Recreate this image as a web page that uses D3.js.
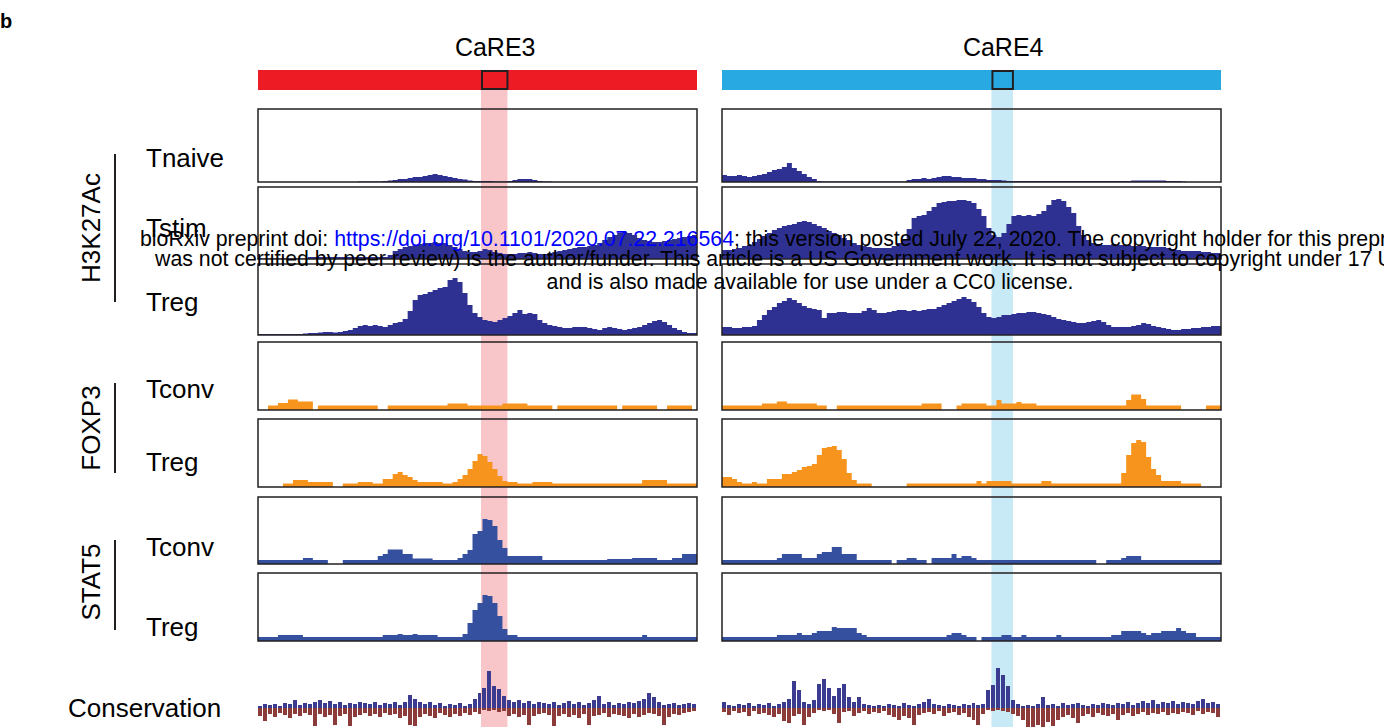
<!DOCTYPE html>
<html>
<head>
<meta charset="utf-8">
<script src="https://d3js.org/d3.v7.min.js"></script>
<style>
  body { margin: 0; background: #fff; }
  svg { display: block; font-family: "Liberation Sans", Arial, sans-serif; }
</style>
</head>
<body>
<svg id="chart" width="1384" height="727"></svg>
<script>
///////////
/// Data ///
///////////

// two enhancer windows, binned signal (one value per bin)
const regions     = ["CaRE3", "CaRE4"];
const binCounts   = [88, 100];
const careStart   = [44.7, 54];      // highlighted element, in bins
const careEnd     = [50, 58.3];

const marks       = ["H3K27Ac", "FOXP3", "STAT5"];
const trackNames  = ["Tnaive", "Tstim", "Treg", "Tconv", "Treg", "Tconv", "Treg"];
const trackMark   = [0, 0, 0, 1, 1, 2, 2];

const h3Tnaive3 = [0,0,0,0,0,0,0,0,0,0, 0,0,0,0,0,0,0,0,0,0,
  0.5,0.5,0.5,0.5,0.5,1,1.5,2,3,3, 4,5,5,6,7,8,7,6,5,4,
  3,2.5,1.5,1,1,1,1,0.5,0.5,0.5, 1,2,3,3,3,2,1,0.5,0.5,0,
  0,0,0,0,0,0,0,0,0,0, 0,0,0,0,0,0,0,0,0,0, 0,0,0,0,0,0,0,0];
const h3Tnaive4 = [7,6,6,7,6,5,6,7,8,10, 12,13,15,19,14,11,8,5,3,1,
  0.5,0.5,0.5,0.5,0.5,0.5,0.5,0.5,0.5,0.5, 0.5,0.5,0.5,0.5,0.5,0.5,0.5,2,3,3,
  4,3,4,5,6,6,5,5,4,4, 4,3,3,2,2,2,1.5,1,1,1,
  1,1,1,1,1,1,1,1,1,1, 1,1,1,1,1,1,1,1,1,1,
  1,1,1.5,1.5,1.5,1.5,1.5,1.5,1.5,1, 1,1,0.5,0,0,0,0,0,0,0];

const h3Tstim3 = [0.5,0.5,0.5,0.5,0.5,0.5,0.5,0.5,0.5,0.5, 2,2,2,2,2,2,2,2,2,2,
  2,2,2,2,2,2,4,8,10,12, 13,14,15,16,16,17,16,16,14,12,
  10,8,7,7,8,10,9,7,6,5, 5,5,6,6,7,6,5,5,6,7,
  8,9,10,11,12,12,13,14,16,19, 22,24,26,27,26,24,21,19,18,17,
  17,18,19,20,21,22,23,24];
const h3Tstim4 = [9,9,10,11,13,14,17,20,23,26, 29,31,33,34,35,37,38,37,35,33,
  31,28,26,24,21,19,16,14,13,12, 11,11,11,11,13,16,19,30,41,43,
  44,48,52,56,57,58,58,59,59,58, 56,50,43,31,24,22,26,35,43,44,
  43,44,43,45,48,54,59,60,58,52, 46,33,24,19,16,15,14,14,15,14,
  14,14,13,13,13,12,12,12,12,11, 10,9,8,8,8,8,7,7,6,6];

const h3Treg3 = [1,1,1,1,1,1,1,1,1,1.5, 2,2,2.5,3,3,2.5,3,4,5,7,
  9,10,9,10,9,8,10,12,13,16, 24,35,40,41,43,45,47,48,55,57,
  53,42,30,22,18,15,14,13,15,17, 19,22,25,21,22,21,15,12,10,9,
  8,7,7,8,8,8,7,6,5,7, 8,7,6,5,6,7,8,10,12,14,
  15,13,10,7,5,3,2,2];
const h3Treg4 = [8,8,7,7,8,8,9,15,20,25, 28,32,34,37,35,32,29,27,26,25,
  17,22,22,23,23,22,22,22,24,27, 25,22,22,23,24,25,25,24,25,24,
  25,26,26,28,30,32,34,36,38,36, 33,28,22,18,17,18,20,20,21,22,
  22,23,23,22,21,20,18,16,15,14, 13,12,12,13,14,15,13,10,8,8,
  8,8,9,10,12,11,9,8,7,6, 5,5,6,6,7,7,8,8,9,9];

const foxTconv3 = [0,0,4.5,4.5,7,7,10.5,10.5,8.5,8.5, 8.5,0,4.5,4.5,4.5,4.5,4.5,4.5,4.5,4.5,
  4.5,4.5,4.5,4.5,0,0,4.5,4.5,4.5,4.5, 4.5,4.5,4.5,4.5,4.5,4.5,4.5,4.5,6.5,6.5,
  6.5,6.5,4.5,4.5,4.5,4.5,4.5,4.5,4.5,6.5, 6.5,6.5,6.5,6.5,4.5,4.5,4.5,4.5,4.5,0,
  4.5,4.5,4.5,4.5,4.5,4.5,4.5,4.5,4.5,4.5, 4.5,4.5,0,4.5,4.5,4.5,4.5,4.5,4.5,4.5,
  0,0,4.5,4.5,4.5,4.5,4.5,0];
const foxTconv4 = [4.5,4.5,4.5,4.5,4.5,4.5,4.5,4.5,6.5,6.5, 6.5,8.5,8.5,6.5,6.5,6.5,6.5,6.5,6.5,4.5,
  4.5,0,0,4.5,4.5,4.5,4.5,4.5,4.5,4.5, 4.5,4.5,4.5,4.5,4.5,4.5,4.5,4.5,4.5,4.5,
  6.5,6.5,6.5,6.5,0,0,0,4.5,6.5,6.5, 6.5,6.5,6.5,4.5,4.5,10,6.5,6.5,6.5,8,
  6.5,6.5,6.5,4.5,4.5,4.5,4.5,4.5,4.5,4.5, 4.5,4.5,4.5,4.5,4.5,4.5,4.5,4.5,4.5,4.5,
  4.5,10,15.5,15.5,11,4.5,4.5,4.5,4.5,4.5, 4.5,4.5,0,0,0,0,0,4.5,4.5,4.5];

const foxTreg3 = [0,0,0,0,0,3.5,3.5,7,7,7, 5,5,5,5,5,0,0,3.5,3.5,3.5,
  5,5,5,3.5,3.5,8,8,13,15,12, 10,7,5,5,5,5,5,3.5,3.5,5,
  8,12,18,26,33,31,25,18,11,6, 5,5,3.5,3.5,3.5,5,5,5,5,3.5,
  3.5,3.5,3.5,3.5,3.5,3.5,3.5,3.5,3.5,3.5, 3.5,3.5,3.5,3.5,3.5,3.5,3.5,7,7,7,
  7,7,3.5,3.5,3.5,3.5,3.5,3.5];
const foxTreg4 = [10,10,8,5,3.5,3.5,5,3.5,3.5,8, 8,8,13,13,15,17,20,21,23,32,
  39,40,41,37,28,14,7,3.5,3.5,3.5, 0,0,0,0,0,0,0,3.5,3.5,3.5,
  3.5,3.5,3.5,3.5,3.5,3.5,3.5,3.5,3.5,3.5, 3.5,6,3.5,6,6,6,6,6,3.5,3.5,
  3.5,3.5,3.5,3.5,6,6,3.5,3.5,3.5,3.5, 3.5,3.5,3.5,3.5,3.5,3.5,3.5,3.5,3.5,3.5,
  14,32,44,47,45,30,18,12,6,6, 6,6,3.5,3.5,3.5,3.5,0,0,0,0];

const stTconv3 = [4,4,4,4,4,4,4,4,4,6, 6,4,4,4,0,0,0,4,4,4,
  4,4,4,4,8,10,14.5,14.5,14.5,10, 10,5.5,5.5,5.5,5.5,4,4,4,4,4,
  6,10,14,30,33,45,44,38,24,16, 8,8,8,8,8,8,8,4,4,4,
  4,4,4,4,4,4,4,4,4,4, 5,5,5,5,5,6,6,6,6,6,
  4,4,4,6,6,10,10,10];
const stTconv4 = [4,4,4,4,4,4,4,4,4,4, 4,6,10,10,10,10,6,6,6,10,
  12,12,17,17,10,10,10,4,4,4, 4,4,4,4,0,4,4,6,6,4,
  4,0,6,6,6,6,10,6,8,8, 6,4,4,4,4,4,4,4,4,4,
  4,4,4,4,4,4,4,4,4,4, 4,4,4,4,4,0,0,4,4,4,
  6,8,8,8,4,4,4,4,4,4, 4,4,4,4,4,4,4,4,4,4];

const stTreg3 = [4,4,4,4,6,6,6,6,6,4, 4,4,4,4,4,4,4,4,4,4,
  4,4,4,4,4,6,6,6,7,6, 6,7,6,6,6,6,4,4,4,4,
  4,7,18,31,38,46,45,38,25,12, 6,6,4,4,4,4,4,4,4,4,
  4,4,4,4,4,4,4,4,4,4, 4,4,4,4,4,4,4,6,4,4,
  4,4,4,4,4,4,4,4];
const stTreg4 = [4,4,4,4,4,4,4,4,4,4, 4,6,6,6,6,8,6,6,8,10,
  10,10,14,13,13,13,13,8,6,4, 4,4,4,4,4,4,4,4,4,4,
  4,4,4,4,4,6,8,8,6,4, 4,0,4,4,4,4,6,6,4,4,
  6,4,4,4,4,4,4,6,4,4, 4,4,4,4,4,4,4,4,6,6,
  10,10,10,10,8,6,8,8,10,10, 10,13,10,8,8,4,4,4,4,4];

// conservation: positive (conserved) and negative (accelerated) per bin
const consUp3 = [2,4,3,4,2,5,4,8,3,5, 4,6,8,5,7,4,6,3,5,4,
  6,5,4,6,3,5,4,6,3,6, 13,9,6,4,6,3,5,2,4,3,
  5,2,4,9,15,20,37,22,19,12, 8,6,8,5,7,4,6,5,4,6,
  3,5,7,4,6,3,5,8,12,4, 6,3,5,4,6,5,7,9,15,11,
  6,3,4,5,3,4,5,4];
const consDown3 = [8,13,6,9,5,7,10,6,8,5, 7,18,6,9,7,17,8,6,18,9,
  7,5,8,6,9,5,7,6,10,8, 17,18,9,6,8,10,5,7,9,6,
  8,5,7,4,6,2,3,2,4,3, 8,6,9,7,17,8,6,5,7,18,
  8,6,9,7,10,6,17,8,7,5, 9,6,7,8,10,6,9,7,5,6,
  8,17,9,6,7,5,4,3];
const consUp4 = [6,3,2,4,3,5,2,4,3,5, 2,4,6,9,27,18,6,4,8,24,
  29,20,12,20,24,11,6,11,4,3, 2,3,2,4,3,2,5,3,2,4,
  6,9,4,3,2,4,3,2,4,3, 5,3,4,18,23,40,33,22,8,4,
  2,3,2,4,11,3,4,2,5,3, 4,5,3,2,4,3,5,4,3,5,
  4,6,3,5,7,5,8,4,6,5, 7,4,6,5,4,7,9,5,6,4];
const consDown4 = [4,7,3,5,4,8,3,6,5,7, 9,6,13,15,8,6,17,9,5,2,
  3,2,6,15,4,3,8,5,3,6, 4,5,3,7,9,12,8,10,17,7,
  5,4,6,3,8,5,4,7,5,9, 12,17,6,2,3,2,3,4,6,8,
  12,19,19,17,19,14,18,12,9,7, 10,15,8,6,9,5,7,8,6,12,
  7,5,8,6,4,7,5,6,4,7, 5,6,4,5,7,3,6,4,5,9];

const trackData = [
  [h3Tnaive3, h3Tnaive4], [h3Tstim3, h3Tstim4], [h3Treg3, h3Treg4],
  [foxTconv3, foxTconv4], [foxTreg3, foxTreg4],
  [stTconv3, stTconv4], [stTreg3, stTreg4]
];
const consUp   = [consUp3, consUp4];
const consDown = [consDown3, consDown4];

//////////////
/// Layout ///
//////////////

const panelX0   = [258, 722];
const panelX1   = [697, 1221];
const rowTop    = [109, 187, 264, 342, 419, 497, 573];
const rowBottom = [182, 259, 335, 410, 487, 564, 641];
const labelY    = [167, 237, 311, 398, 471, 556, 636];
const markMidY  = [228, 428, 582];
const markLine  = [[154, 302], [383, 473], [540, 630]];
const markColor = ["#2e3192", "#f7941d", "#34509f"];
const barColor  = ["#ed1c24", "#29a9e1"];
const bandColor = ["#f8c6c8", "#c8e9f6"];
const consBase  = 708;

let svg = d3.select("#chart");

let xs = regions.map((r, s) => d3.scaleLinear()
    .domain([0, binCounts[s]])
    .range([panelX0[s], panelX1[s]]));

//////////////////////////
/// Highlight + header ///
//////////////////////////

regions.forEach((r, s) => {
    let a = xs[s](careStart[s]);
    let b = xs[s](careEnd[s]);

    svg.append("rect")
        .attr("x", a).attr("y", 90)
        .attr("width", b - a).attr("height", 727 - 90)
        .attr("fill", bandColor[s]);

    svg.append("rect")
        .attr("x", panelX0[s]).attr("y", 70)
        .attr("width", panelX1[s] - panelX0[s]).attr("height", 20)
        .attr("fill", barColor[s]);

    svg.append("rect")
        .attr("x", a + 1).attr("y", 71)
        .attr("width", b - a - 1).attr("height", 18)
        .attr("fill", "none")
        .attr("stroke", "#231f20")
        .attr("stroke-width", 2);

    svg.append("text")
        .attr("x", (a + b) / 2 + 1)
        .attr("y", 56)
        .attr("text-anchor", "middle")
        .attr("font-size", 25)
        .text(r);
});

//////////////
/// Tracks ///
//////////////

trackData.forEach((pair, row) => {
    let y = d3.scaleLinear()
        .domain([0, rowBottom[row] - rowTop[row]])
        .range([rowBottom[row], rowTop[row]]);

    pair.forEach((values, s) => {
        let pts = values.map((v, i) => [i, v]);
        pts.push([values.length, values[values.length - 1]]);

        let area = d3.area()
            .x(d => xs[s](d[0]))
            .y0(y(0))
            .y1(d => y(d[1]))
            .curve(d3.curveStepAfter);

        svg.append("path")
            .attr("d", area(pts))
            .attr("fill", markColor[trackMark[row]]);

        svg.append("rect")
            .attr("x", panelX0[s])
            .attr("y", rowTop[row])
            .attr("width", panelX1[s] - panelX0[s])
            .attr("height", rowBottom[row] - rowTop[row])
            .attr("fill", "none")
            .attr("stroke", "#231f20")
            .attr("stroke-width", 1.5);
    });
});

////////////////////
/// Conservation ///
////////////////////

let yc = d3.scaleLinear().domain([0, 40]).range([consBase, consBase - 40]);

regions.forEach((r, s) => {
    let g = svg.append("g").attr("shape-rendering", "crispEdges");
    let w = xs[s](1) - xs[s](0);
    g.selectAll(".up")
        .data(consUp[s])
        .enter()
        .append("rect")
        .attr("x", (d, i) => xs[s](i))
        .attr("y", d => yc(d))
        .attr("width", w - 1)
        .attr("height", d => consBase - yc(d))
        .attr("fill", "#3b3b8f");
    g.selectAll(".down")
        .data(consDown[s])
        .enter()
        .append("rect")
        .attr("x", (d, i) => xs[s](i))
        .attr("y", consBase)
        .attr("width", w - 1)
        .attr("height", d => consBase - yc(d))
        .attr("fill", "#8c3b3b");
});

//////////////
/// Labels ///
//////////////

trackNames.forEach((name, row) => {
    svg.append("text")
        .attr("x", 146)
        .attr("y", labelY[row])
        .attr("font-size", 26)
        .text(name);
});

svg.append("text")
    .attr("x", 68)
    .attr("y", consBase + 9)
    .attr("font-size", 26)
    .text("Conservation");

marks.forEach((m, k) => {
    svg.append("text")
        .attr("transform", "translate(100," + markMidY[k] + ") rotate(-90)")
        .attr("text-anchor", "middle")
        .attr("font-size", 26)
        .text(m);
    svg.append("line")
        .attr("x1", 115).attr("x2", 115)
        .attr("y1", markLine[k][0]).attr("y2", markLine[k][1])
        .attr("stroke", "#231f20")
        .attr("stroke-width", 2);
});

svg.append("text")
    .attr("x", 0).attr("y", 28)
    .attr("font-size", 20)
    .attr("font-weight", "bold")
    .text("b");

/////////////////
/// Watermark ///
/////////////////

let wm1 = svg.append("text")
    .attr("x", 140).attr("y", 246)
    .attr("font-size", 21.3);
wm1.append("tspan").text("bioRxiv preprint doi: ");
wm1.append("tspan").attr("fill", "#0000ff").text("https://doi.org/10.1101/2020.07.22.216564");
wm1.append("tspan").text("; this version posted July 22, 2020. The copyright holder for this preprint (which");

svg.append("text")
    .attr("x", 155).attr("y", 266)
    .attr("font-size", 21.3)
    .text("was not certified by peer review) is the author/funder. This article is a US Government work. It is not subject to copyright under 17 USC 105");

svg.append("text")
    .attr("x", 810).attr("y", 289)
    .attr("text-anchor", "middle")
    .attr("font-size", 21.3)
    .text("and is also made available for use under a CC0 license.");
</script>
</body>
</html>
